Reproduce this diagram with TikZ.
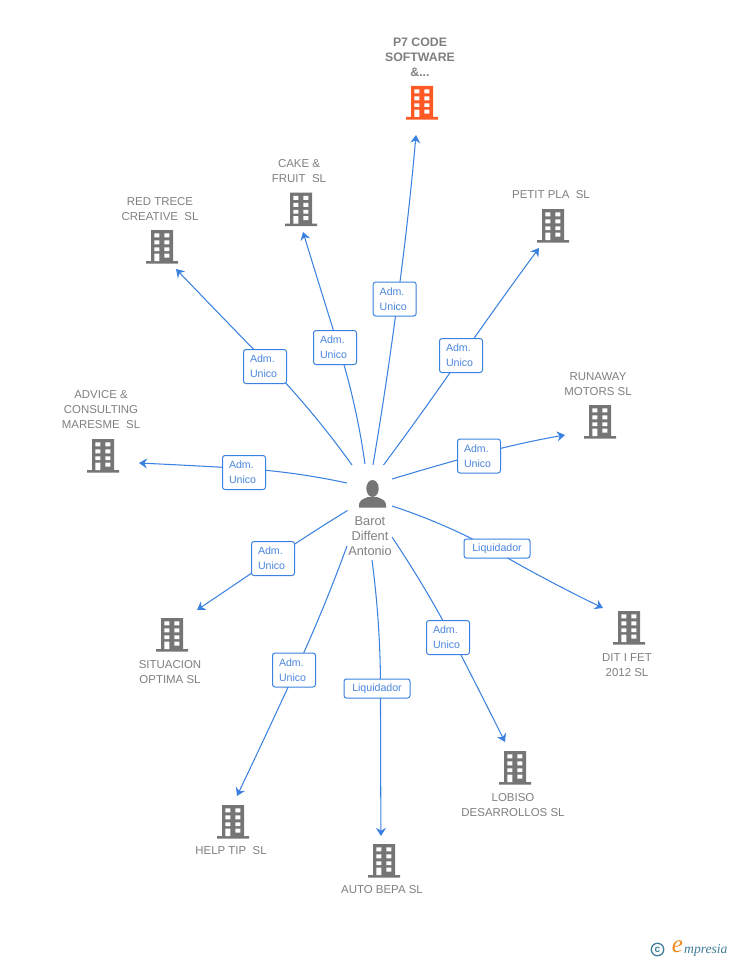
\documentclass[tikz,border=0pt]{standalone}
\usepackage{fontspec}
\setmainfont{Liberation Sans}
\newfontfamily\logoserif{Liberation Serif}
\usetikzlibrary{arrows.meta,backgrounds,calc}
\definecolor{edgeblue}{HTML}{3B82E0}
\definecolor{labelblue}{HTML}{4A86DC}
\definecolor{boxgray}{HTML}{757575}
\definecolor{txtgray}{HTML}{7F7F7F}
\definecolor{hot}{HTML}{FF5A26}
\definecolor{logoblue}{HTML}{3E7C99}
\definecolor{logoorange}{HTML}{F08A1D}
\tikzset{
  x=1pt,y=-1pt,
  pics/building/.style={code={
    \fill[#1] (-11,0) rectangle (11,31) (-16,31) rectangle (16,33.6);
    \fill[white]
      (-7.7,3.4) rectangle (-2.7,7.4) (2.3,3.4) rectangle (7.3,7.4)
      (-7.7,10.4) rectangle (-2.7,14.4) (2.3,10.4) rectangle (7.3,14.4)
      (-7.7,17.4) rectangle (-2.7,21) (2.3,17.4) rectangle (7.3,21)
      (-7.7,23.6) rectangle (-2.7,31) (2.3,23.6) rectangle (7.3,27.6);
  }},
  company/.style={font=\fontsize{11.45}{15}\selectfont,text=txtgray,align=center,inner sep=0pt},
  role/.style={draw=edgeblue,fill=white,rounded corners=2.5pt,line width=1pt,text=labelblue,
    font=\fontsize{10.6}{15}\selectfont,inner sep=0pt},
  adm/.style={role,minimum width=43,minimum height=34,text width=30,align=left},
  liq/.style={role,minimum width=66,minimum height=19,align=center},
  link/.style={draw=edgeblue,line width=1.05pt,-{Stealth[length=8pt,width=10pt]}},
}
% start, bend point before the label, point on the label, bend point after it, end
\newcommand{\connector}[5]{%
  \draw[link] (#1) .. controls ($(#1)!.667!(#2)$) and ($(#3)!.667!(#2)$) .. (#3)
    .. controls ($(#3)!.667!(#4)$) and ($(#5)!.667!(#4)$) .. (#5);}
\begin{document}
\begin{tikzpicture}
\useasboundingbox (0,0) rectangle (728,960);
% buildings
\pic at (422,86) {building=hot};
\pic at (301,192.5) {building=boxgray};
\pic at (162,230) {building=boxgray};
\pic at (553,209) {building=boxgray};
\pic at (600,405) {building=boxgray};
\pic at (103,439) {building=boxgray};
\pic at (172,618) {building=boxgray};
\pic at (629,611) {building=boxgray};
\pic at (515,751) {building=boxgray};
\pic at (384,844) {building=boxgray};
\pic at (233,805) {building=boxgray};
% company labels
\node[company,font=\fontsize{12.3}{15}\bfseries\selectfont] (tp7) at (420,57) {P7 CODE\\SOFTWARE\\\&...};
\node[company] (tcake) at (299,171) {CAKE \&\\FRUIT\ \ SL};
\node[company] (tred) at (160,209) {RED TRECE\\CREATIVE\ \ SL};
\node[company] (tpetit) at (551,195) {PETIT PLA\ \ SL};
\node[company] (trun) at (598,384) {RUNAWAY\\MOTORS SL};
\node[company] (tadv) at (101,410) {ADVICE \&\\CONSULTING\\MARESME\ \ SL};
\node[company] (tsit) at (170,672) {SITUACION\\OPTIMA SL};
\node[company] (tdit) at (627,665) {DIT I FET\\2012 SL};
\node[company] (tlob) at (513,805) {LOBISO\\DESARROLLOS SL};
\node[company] (tauto) at (382,890) {AUTO BEPA SL};
\node[company] (thelp) at (231,851) {HELP TIP\ \ SL};
% person
\node[company,font=\fontsize{12.8}{15}\selectfont] (person) at (370,536.5) {Barot\\Diffent\\Antonio};
\fill[boxgray] (372.5,488.5) ellipse (6.2 and 8.5);
\fill[boxgray] (359,507.5) .. controls (358.5,500) and (362,499.5) .. (368,497)
  -- (377,497) .. controls (383,499.5) and (386.5,500) .. (386,507.5) -- cycle;
% role labels
\node[adm] (l1) at (394.7,299) {Adm.\\Unico};
\node[adm] (l2) at (335,347.5) {Adm.\\Unico};
\node[adm] (l3) at (265,366.5) {Adm.\\Unico};
\node[adm] (l4) at (461,355.5) {Adm.\\Unico};
\node[adm] (l5) at (479,456) {Adm.\\Unico};
\node[adm] (l6) at (244,472.5) {Adm.\\Unico};
\node[adm] (l7) at (273,558.5) {Adm.\\Unico};
\node[liq] (l8) at (497,548.5) {Liquidador};
\node[adm] (l9) at (448,637.5) {Adm.\\Unico};
\node[liq] (l10) at (377,688.5) {Liquidador};
\node[adm] (l11) at (294,670) {Adm.\\Unico};
% connector ends and points on the labels
\coordinate (s1) at (373,465); \coordinate (e1) at (416,135); \coordinate (m1) at ([xshift=3pt]l1.center);
\coordinate (s2) at (365,464); \coordinate (e2) at (303,232); \coordinate (m2) at ([xshift=3.8pt]l2.center);
\coordinate (s3) at (352,465); \coordinate (e3) at (176,269); \coordinate (m3) at ([yshift=5.5pt]l3.center);
\coordinate (s4) at (383.5,465); \coordinate (e4) at (539,248); \coordinate (m4) at ([xshift=1pt]l4.center);
\coordinate (s5) at (392,479); \coordinate (e5) at (565,435); \coordinate (m5) at ([yshift=2pt]l5.center);
\coordinate (s6) at (347,483); \coordinate (e6) at (139,463); \coordinate (m6) at ([yshift=4pt]l6.center);
\coordinate (s7) at (347.5,510.5); \coordinate (e7) at (197,610); \coordinate (m7) at (l7.center);
\coordinate (s8) at (392,506); \coordinate (e8) at (603,608); \coordinate (m8) at ([yshift=-3.5pt]l8.center);
\coordinate (s9) at (392,537); \coordinate (e9) at (505,742); \coordinate (m9) at ([xshift=4pt]l9.center);
\coordinate (s10) at (372,560); \coordinate (e10) at (381,836); \coordinate (m10) at ([xshift=3.5pt]l10.center);
\coordinate (s11) at (347,546); \coordinate (e11) at (237,796); \coordinate (m11) at ([xshift=2pt]l11.center);
% connectors, running behind the role labels
\begin{scope}[on background layer]
\connector{s1}{387,382}{m1}{408.7,218}{e1}
\connector{s2}{356.5,403.8}{m2}{320.8,290}{e2}
\connector{s3}{312.6,410}{m3}{221,316}{e3}
\connector{s4}{420.4,415.5}{m4}{499.6,301.5}{e4}
\connector{s5}{436,465.7}{m5}{521,442.6}{e5}
\connector{s6}{296,472}{m6}{192,465.5}{e6}
\connector{s7}{310,533.5}{m7}{235,584.5}{e7}
\connector{s8}{447,524}{m8}{549,582}{e8}
\connector{s9}{426,588}{m9}{479,690}{e9}
\connector{s10}{380.5,624.5}{m10}{380.5,762}{e10}
\connector{s11}{324,609}{m11}{267,733}{e11}
\end{scope}
% logo
\node[draw=logoblue,circle,line width=1.3pt,minimum size=12.5,inner sep=0pt,text=logoblue,font=\fontsize{10}{10}\bfseries\selectfont] (copy) at (657.5,949.5) {c};
\node[inner sep=0pt,text=logoorange,font=\logoserif\fontsize{25}{25}\itshape\selectfont] (logoe) at (677.5,947) {e};
\node[inner sep=0pt,anchor=west,text=logoblue,font=\logoserif\fontsize{13.6}{14}\itshape\selectfont] (logot) at (684,950) {mpresia};
\end{tikzpicture}
\end{document}
